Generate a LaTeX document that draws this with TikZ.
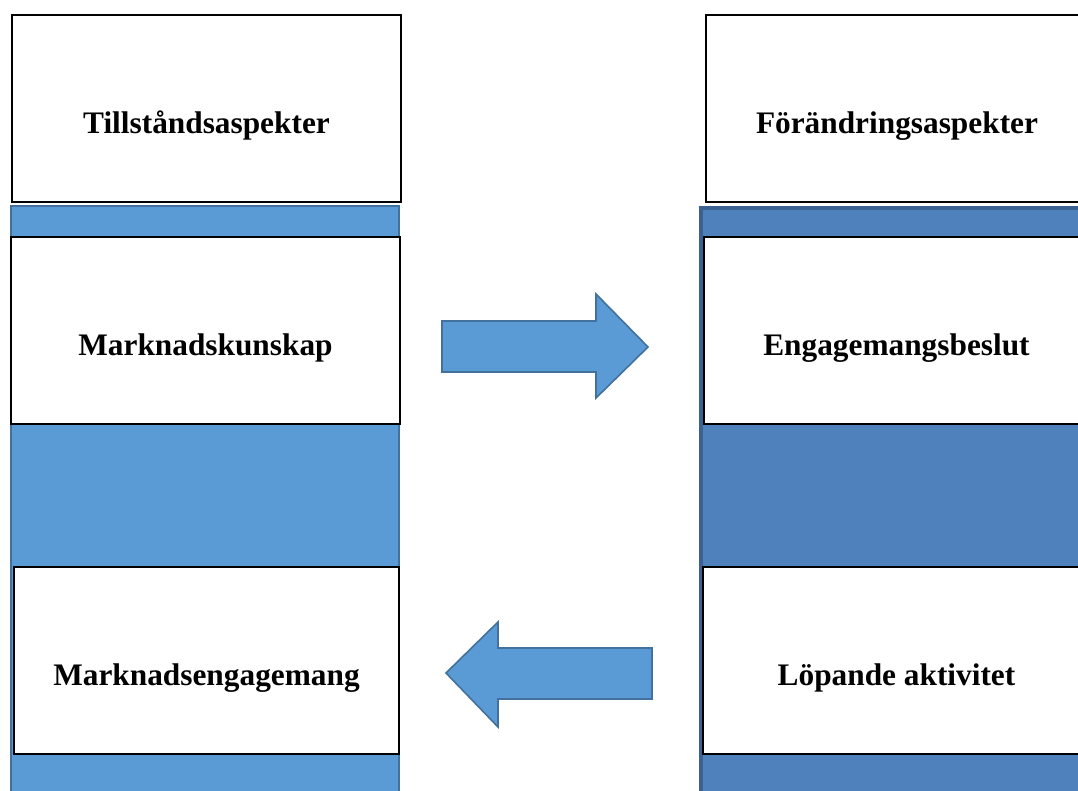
\documentclass[tikz,border=0pt]{standalone}
\usepackage{fontspec}
\setmainfont{Liberation Serif}
\definecolor{barblue}{HTML}{5B9BD5}
\definecolor{barline}{HTML}{41719C}
\definecolor{darkblue}{HTML}{4F81BD}
\definecolor{darkline}{HTML}{3A6190}

\begin{document}
\begin{tikzpicture}
[
    x=0.75pt, y=-0.75pt,
    aspect/.style={draw=black, line width=1.2pt, fill=white, minimum height=140.25pt,
        inner sep=0pt, text height=36.8pt, text depth=0pt,
        font=\bfseries\fontsize{23.5}{28}\selectfont},
    blockarrow/.style={fill=barblue, draw=barline, line width=1.2pt, line join=miter},
]
\useasboundingbox (0,0) rectangle (1078,791);

% columns
\draw[fill=barblue, draw=barline, line width=1.2pt] (11,206) rectangle (399,800);
\draw[fill=darkblue, draw=darkline, line width=2.6pt] (701,208) rectangle (1090,800);

% left side
\node[aspect, minimum width=291.75pt] (tillstand) at (206.5,108.5) {Tillståndsaspekter};
\node[aspect, minimum width=291.75pt] (kunskap) at (205.5,330.5) {Marknadskunskap};
\node[aspect, minimum width=288.75pt] (engagemang) at (206.5,660.5) {Marknadsengagemang};

% right side
\node[aspect, minimum width=286.5pt] (forandring) at (897,108.5) {Förändringsaspekter};
\node[aspect, minimum width=288.75pt] (beslut) at (896.5,330.5) {Engagemangsbeslut};
\node[aspect, minimum width=290.25pt] (aktivitet) at (896.5,660.5) {Löpande aktivitet};

% arrows
\draw[blockarrow] (442,321) -- (596,321) -- (596,294) -- (648,347) -- (596,398)
    -- (596,372) -- (442,372) -- cycle;
\draw[blockarrow] (652,648) -- (498,648) -- (498,622) -- (446,673) -- (498,727)
    -- (498,699) -- (652,699) -- cycle;
\end{tikzpicture}
\end{document}
